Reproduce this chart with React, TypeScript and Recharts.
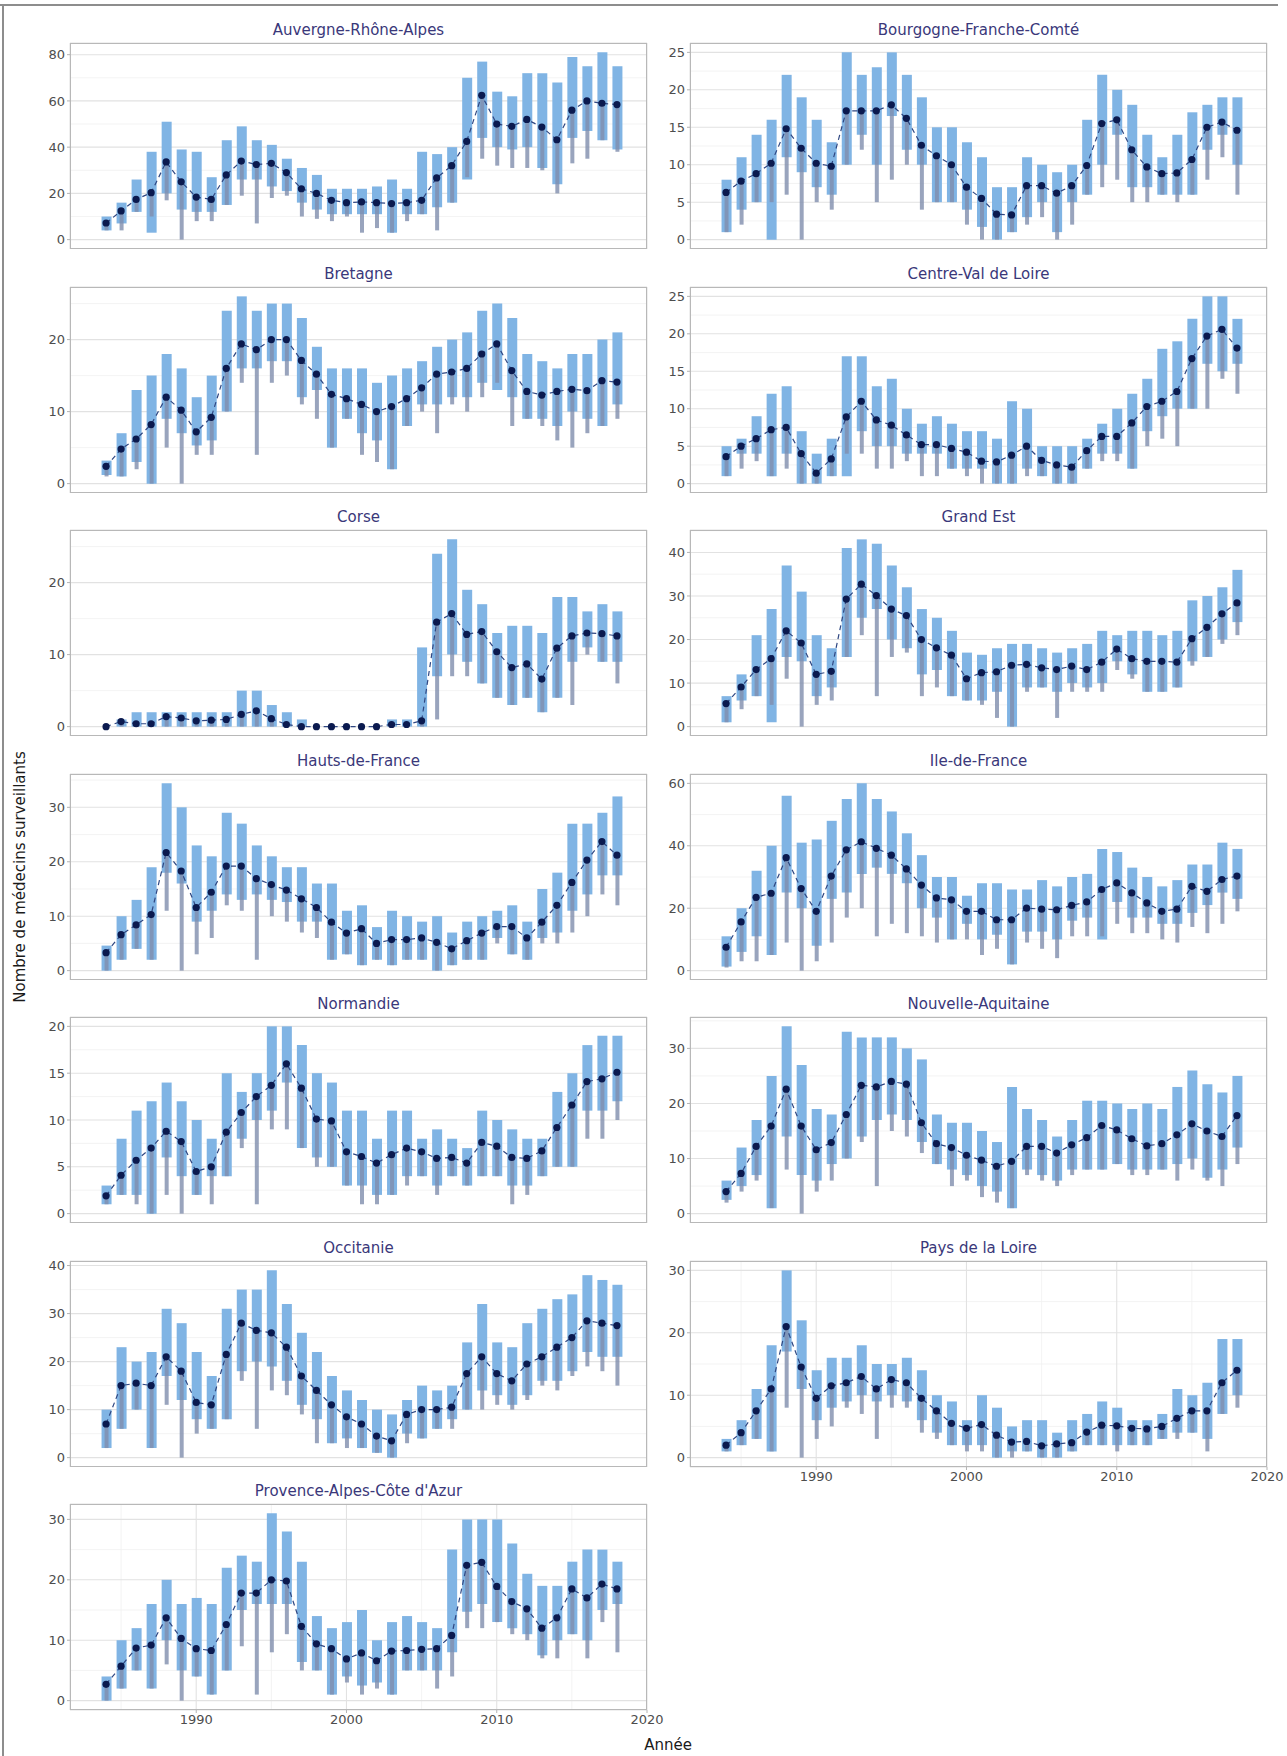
import { ComposedChart, Bar, Line, XAxis, YAxis, CartesianGrid } from 'recharts';

// years observed in each region
const years = [
  1984, 1985, 1986, 1987, 1988, 1989, 1990, 1991, 1992, 1993, 1994, 1995, 1996, 1997, 1998, 1999, 2000, 2001,
  2002, 2003, 2004, 2005, 2006, 2007, 2008, 2009, 2010, 2011, 2012, 2013, 2014, 2015, 2016, 2017, 2018,
];
const xTicks = [1990, 2000, 2010, 2020];
const xMinor = [1985, 1995, 2005, 2015];

// Auvergne-Rhône-Alpes
const auraMed = [7.2, 12.4, 17.4, 20.3, 33.6, 25, 18.4, 17.4, 28, 34, 32.5, 33, 29, 22, 20, 17, 16, 16.3, 16, 15.6, 16, 17, 26.7, 32, 42.5, 62.4, 50, 49, 52, 48.7, 43.2, 56, 60, 59, 58.4];
const auraLo = [4, 7, 12, 3, 20, 13, 12, 12, 15, 26, 26, 23, 21, 16, 13, 11, 11, 11, 11, 3, 11, 11, 14, 16, 26, 44, 40, 39, 40, 31, 24, 44, 47, 43, 39];
const auraHi = [10, 16, 26, 38, 51, 39, 38, 27, 43, 49, 43, 41, 35, 31, 28, 22, 22, 22, 23, 26, 22, 38, 37, 40, 70, 77, 64, 62, 72, 72, 68, 79, 75, 81, 75];
const auraMin = [4, 4, 12, 10, 17, 0, 8, 8, 15, 19, 7, 18, 19, 10, 9, 8, 10, 3, 5, 3, 8, 11, 4, 16, 27, 35, 32, 31, 31, 30, 20, 33, 35, 43, 38];

// Bourgogne-Franche-Comté
const bfcMed = [6.3, 7.8, 8.8, 10.2, 14.8, 12.2, 10.2, 9.8, 17.2, 17.2, 17.2, 18, 16.2, 12.6, 11.2, 10, 7, 5.5, 3.4, 3.3, 7.2, 7.2, 6.2, 7.2, 9.9, 15.5, 16, 12, 9.7, 8.8, 8.9, 10.7, 15, 15.7, 14.6];
const bfcLo = [1, 4, 5, 0, 11, 9, 7, 6, 10, 14, 10, 16.5, 12, 10, 5, 5, 4, 1.7, 0, 1, 3, 5, 1, 5, 6, 10, 14, 7, 7, 6, 6, 6, 12, 14, 10];
const bfcHi = [8, 11, 14, 16, 22, 19, 16, 13, 25, 22, 23, 25, 22, 19, 15, 15, 13, 11, 7, 7, 11, 10, 9, 10, 16, 22, 20, 18, 14, 11, 14, 17, 18, 19, 19];
const bfcMin = [1, 2, 5, 5, 6, 0, 5, 4, 10, 12, 5, 8, 10, 4, 5, 5, 2, 0, 0, 1, 2, 3, 0, 2, 6, 7, 8, 5, 5, 6, 5, 6, 8, 11, 6];

// Bretagne
const breMed = [2.4, 4.8, 6.2, 8.2, 12, 10.2, 7.2, 9.2, 16, 19.4, 18.6, 20, 20, 17.1, 15.2, 12.4, 11.8, 11, 10, 10.7, 11.8, 13.3, 15.2, 15.5, 16, 18, 19.4, 15.7, 12.8, 12.3, 12.8, 13.1, 12.9, 14.3, 14.1];
const breLo = [1.2, 1, 3, 0, 9, 7, 5.3, 6, 10, 16, 16, 17, 17, 12, 13, 5, 9, 7, 6, 2, 8, 11, 11, 12, 12, 14, 13, 12, 9, 9, 8, 10, 9, 8, 11];
const breHi = [3.2, 7, 13, 15, 18, 16, 12, 15, 24, 26, 24, 25, 25, 23, 19, 16, 16, 16, 14, 15, 16, 17, 19, 20, 21, 24, 25, 23, 18, 17, 16, 18, 18, 20, 21];
const breMin = [1, 1, 2, 0, 5, 0, 4, 4, 10, 14, 4, 14, 15, 11, 9, 5, 9, 4, 3, 2, 8, 10, 7, 11, 10, 12, 14, 8, 9, 8, 6, 5, 7, 8, 9];

// Centre-Val de Loire
const cvlMed = [3.6, 5, 6, 7.2, 7.5, 4, 1.4, 3.3, 8.9, 11, 8.5, 7.8, 6.5, 5.2, 5.2, 4.7, 4.2, 3, 2.9, 3.8, 5, 3.1, 2.5, 2.2, 4.4, 6.3, 6.3, 8.1, 10.3, 11, 12.3, 16.7, 19.7, 20.6, 18.1];
const cvlLo = [1, 4, 4, 1, 4, 0, 0, 1, 1, 7, 5, 5, 4, 4, 4, 2, 2, 2, 0, 0, 2, 1, 0, 0, 2, 4, 4, 2, 7, 9, 10, 10, 16, 15, 16];
const cvlHi = [5, 6, 9, 12, 13, 7, 4, 6, 17, 17, 13, 14, 10, 8, 9, 8, 7, 7, 6, 11, 10, 5, 5, 5, 6, 8, 10, 12, 14, 18, 19, 22, 25, 25, 22];
const cvlMin = [1, 2, 3, 1, 2, 0, 0, 1, 4, 4, 2, 2, 3, 1, 1, 2, 1, 0, 0, 0, 1, 1, 0, 0, 2, 3, 3, 2, 5, 6, 5, 10, 10, 14, 12];

// Corse
const corMed = [0, 0.7, 0.4, 0.4, 1.4, 1.2, 0.8, 0.9, 1, 1.7, 2.2, 1.1, 0.3, 0, 0, 0, 0, 0, 0, 0.3, 0.3, 0.8, 14.5, 15.7, 12.8, 13.2, 10.4, 8.2, 8.7, 6.6, 10.9, 12.6, 13, 12.9, 12.6];
const corLo = [0, 0, 0, 0, 0, 0, 0, 0, 0, 0, 0, 0, 0, 0, 0, 0, 0, 0, 0, 0, 0, 0, 7, 10, 9, 6, 4, 3, 4, 2, 4, 9, 11, 9, 9];
const corHi = [0, 1, 2, 2, 2, 2, 2, 2, 2, 5, 5, 3, 2, 1, 0, 0, 0, 0, 0, 1, 1, 11, 24, 26, 19, 17, 13, 14, 14, 13, 18, 18, 16, 17, 16];
const corMin = [0, 0, 0, 0, 0, 0, 0, 0, 0, 0, 0, 0, 0, 0, 0, 0, 0, 0, 0, 0, 0, 0, 1, 7, 7, 6, 4, 3, 4, 2, 4, 3, 10, 9, 6];

// Grand Est
const gesMed = [5.3, 9.1, 13.1, 15.6, 22, 19.2, 12, 12.7, 29.3, 32.7, 30.1, 27, 25.5, 20, 18.1, 16.4, 11, 12.4, 12.6, 14.1, 14.3, 13.5, 13.1, 13.9, 13.1, 14.8, 17.8, 15.6, 15, 15, 14.8, 20.2, 22.8, 25.9, 28.4];
const gesLo = [1, 6, 7, 1, 16, 15, 7, 9, 16, 25, 27, 20, 18, 12, 13, 7, 6, 6, 8, 0, 9, 9, 8, 10, 9, 10, 15, 12, 8, 8, 9, 15, 16, 20, 24];
const gesHi = [7, 12, 21, 27, 37, 31, 21, 18, 41, 43, 42, 37, 32, 27, 25, 22, 17, 16.5, 18, 19, 19, 18, 17, 18, 19, 22, 21, 22, 22, 21, 22, 29, 30, 32, 36];
const gesMin = [1, 4, 7, 5, 11, 0, 5, 6, 16, 21, 7, 16, 17, 7, 9, 7, 6, 5, 2, 0, 8, 9, 2, 8, 8, 8, 13, 11, 8, 8, 9, 14, 16, 19, 21];

// Hauts-de-France
const hdfMed = [3.3, 6.6, 8.4, 10.3, 21.7, 18.3, 11.6, 14.4, 19.2, 19.2, 16.9, 15.8, 14.8, 13.2, 11.6, 8.9, 6.9, 7.7, 5, 5.7, 5.7, 6, 5.2, 4, 5.5, 6.9, 8.1, 8.1, 6, 8.9, 12, 16.2, 20.3, 23.7, 21.2];
const hdfLo = [0, 2, 4, 2, 18, 16, 9, 11, 14, 13, 14, 13, 12.6, 9, 9, 2, 3, 1, 2, 1, 2, 2, 0, 1, 2, 2, 6, 3, 2, 6, 7, 11, 14, 17.5, 17.5];
const hdfHi = [4.6, 10, 13, 19, 34.4, 30, 23, 21, 29, 27, 23, 21, 19, 19, 16, 16, 11, 12, 8, 11, 10, 9, 10, 7, 9, 10, 11, 12, 9, 15, 18, 27, 27, 29, 32];
const hdfMin = [0, 2, 4, 2, 11, 0, 3, 6, 12, 11, 2, 10, 9, 7, 6, 2, 3, 1, 2, 1, 2, 2, 0, 1, 2, 2, 5, 3, 2, 5, 5, 7, 10, 14, 12];

// Ile-de-France
const idfMed = [7.5, 15.6, 23.5, 24.8, 36.2, 26.3, 19, 30.3, 38.7, 41.3, 39.2, 37, 32.6, 27.4, 23.3, 22.7, 19, 19, 16.3, 16.3, 20, 19.7, 19.5, 20.9, 22, 26, 28.1, 24.9, 21.7, 19, 19.7, 27, 25.4, 29.2, 30.3];
const idfLo = [1.3, 6, 11, 5, 25, 20, 8, 23, 25, 31, 33, 31, 28, 20, 17, 10, 15, 10, 11.5, 2, 12.5, 12.5, 10, 16, 17, 10, 22, 17, 17, 15, 15, 18.5, 21, 25, 23];
const idfHi = [11, 20, 32, 40, 56, 41, 42, 48, 55, 60, 55, 51, 44, 37, 30, 30, 24, 28, 28, 26, 26, 29, 27, 30, 31, 39, 38, 33, 30, 27, 29, 34, 34, 41, 39];
const idfMin = [1, 3, 3, 5, 9, 0, 3, 9, 17, 20, 11, 15, 12, 11, 9, 10, 10, 5, 7, 2, 9, 7, 4, 11, 11, 11, 15, 12, 12, 10, 9, 14, 12, 15, 19];

// Normandie
const norMed = [1.9, 4.1, 5.7, 7, 8.8, 7.7, 4.5, 5, 8.7, 10.8, 12.5, 13.7, 16, 13.4, 10.1, 9.9, 6.6, 6.1, 5.4, 6.3, 7, 6.6, 5.9, 6, 5.4, 7.6, 7.2, 6, 5.9, 6.7, 9.2, 11.6, 14.1, 14.4, 15.1];
const norLo = [1, 2, 2, 0, 6, 4, 2, 4, 4, 8, 10, 11, 14, 7, 6, 5, 3, 3, 2, 2, 4, 4, 3, 4, 3, 4, 4, 3, 3, 4, 5, 5, 11, 11, 12];
const norHi = [3, 8, 11, 12, 14, 12, 10, 8, 15, 13, 15, 20, 20, 18, 15, 14, 11, 11, 8, 11, 11, 8, 9, 8, 7, 11, 10, 9, 8, 8, 13, 15, 18, 19, 19];
const norMin = [1, 2, 1, 0, 2, 0, 2, 1, 4, 7, 1, 9, 9, 7, 5, 5, 3, 1, 1, 2, 3, 4, 2, 4, 3, 4, 4, 1, 2, 4, 5, 5, 8, 8, 10];

// Nouvelle-Aquitaine
const naqMed = [4, 7.3, 12.2, 15.9, 22.6, 15.9, 11.6, 12.9, 18, 23.3, 23, 24, 23.5, 16.5, 12.7, 12, 10.6, 9.7, 8.6, 9.5, 12.2, 12.2, 11, 12.5, 13.8, 16, 15.2, 13.6, 12.3, 12.7, 14.3, 16.3, 15, 14, 17.8];
const naqLo = [2.5, 5, 7, 1, 14, 7, 6, 9, 10, 14, 17, 18, 17, 13, 9, 8, 7, 5, 4, 1, 8, 7, 6, 8, 8, 8, 9, 8, 8, 8, 9, 10, 6.5, 8, 12];
const naqHi = [6, 12, 17, 25, 34, 27, 19, 18, 33, 32, 32, 32, 30, 28, 18, 16.5, 16.5, 15, 13, 23, 19, 17, 14, 17, 20.5, 20.5, 20, 19, 20, 19, 23, 26, 23.5, 22, 25];
const naqMin = [2, 4, 6, 1, 8, 0, 4, 6, 10, 13, 5, 15, 14, 11, 9, 5, 6, 3, 2, 1, 7, 6, 5, 7, 8, 8, 9, 7, 7, 8, 6, 8, 6, 5, 9];

// Occitanie
const occMed = [7, 15, 15.5, 15, 21, 18, 11.5, 11, 21.5, 28, 26.5, 26, 23, 17, 14, 11, 8.5, 7, 4.5, 3.5, 9, 10, 10, 10.5, 17.5, 21, 17.5, 16, 19.5, 21, 23, 25, 28.5, 28, 27.5];
const occLo = [2, 6, 10, 2, 17, 12, 8, 6, 8, 18, 20, 19, 16, 11, 8, 3, 4, 2, 1, 0, 5, 4, 6, 8, 10, 14, 13, 11, 13, 16, 16, 18, 22, 21, 21];
const occHi = [10, 23, 20, 22, 31, 28, 22, 17, 31, 35, 35, 39, 32, 26, 22, 17, 14, 12, 10, 9, 12, 15, 14, 15, 24, 32, 24, 23, 28, 31, 33, 34, 38, 37, 36];
const occMin = [2, 6, 10, 2, 11, 0, 5, 6, 8, 16, 6, 14, 13, 9, 3, 3, 2, 2, 1, 0, 3, 4, 6, 6, 10, 10, 11, 10, 12, 15, 14, 17, 19, 18, 15];

// Pays de la Loire
const pdlMed = [2, 4, 7.5, 11, 21, 14.5, 9.5, 11.5, 12, 13, 11, 12.5, 12, 9.5, 7.5, 5.5, 4.7, 5.3, 3.6, 2.5, 2.6, 1.9, 2.2, 2.4, 4.1, 5.2, 5.1, 4.7, 4.6, 5, 6.3, 7.5, 7.5, 12, 14];
const pdlLo = [1, 2, 3, 1, 17, 11, 6, 8, 9, 10, 9, 10, 9, 6, 4, 2, 2, 2, 0, 1, 1, 0, 0, 1, 2, 2, 2, 2, 2, 3, 4, 4, 3, 7, 10];
const pdlHi = [3, 6, 11, 18, 30, 22, 14, 16, 16, 18, 15, 15, 16, 14, 10, 9, 6, 10, 8, 5, 6, 6, 4, 6, 7, 9, 8, 6, 6, 7, 11, 10, 12, 19, 19];
const pdlMin = [1, 2, 3, 1, 8, 0, 3, 5, 8, 7, 3, 8, 8, 4, 3, 2, 1, 1, 0, 0, 1, 0, 0, 1, 2, 2, 1, 2, 2, 3, 3, 4, 1, 7, 8];

// Provence-Alpes-Côte d'Azur
const pacMed = [2.7, 5.7, 8.7, 9.2, 13.7, 10.3, 8.6, 8.3, 12.6, 17.8, 17.8, 20, 19.8, 12.3, 9.4, 8.6, 6.9, 7.9, 6.6, 8.2, 8.3, 8.5, 8.6, 10.8, 22.4, 22.9, 18.9, 16.4, 15.2, 12, 13.7, 18.5, 17, 19.3, 18.5];
const pacLo = [0, 2, 5, 2, 10, 5, 4, 1, 5, 15, 16, 16, 16, 6.4, 5, 1, 4, 2.5, 3, 1, 5, 5, 5, 8, 14.7, 16, 13, 12, 11, 7.5, 10, 11, 10, 15, 16];
const pacHi = [4, 10, 12, 16, 20, 16, 17, 16, 22, 24, 23, 31, 28, 23, 14, 12, 13, 15, 10, 13, 14, 13, 12, 25, 30, 30, 30, 26, 21, 19, 19, 23, 25, 25, 23];
const pacMin = [0, 2, 5, 2, 6, 0, 4, 1, 5, 9, 1, 8, 11, 5, 5, 1, 3, 1, 2, 1, 5, 5, 2, 4, 12, 12, 13, 11, 10, 7, 7, 11, 7, 13, 8];

const regions = [
  { name: 'Auvergne-Rhône-Alpes', med: auraMed, lo: auraLo, hi: auraHi, min: auraMin, yTicks: [0, 20, 40, 60, 80] },
  { name: 'Bourgogne-Franche-Comté', med: bfcMed, lo: bfcLo, hi: bfcHi, min: bfcMin, yTicks: [0, 5, 10, 15, 20, 25] },
  { name: 'Bretagne', med: breMed, lo: breLo, hi: breHi, min: breMin, yTicks: [0, 10, 20] },
  { name: 'Centre-Val de Loire', med: cvlMed, lo: cvlLo, hi: cvlHi, min: cvlMin, yTicks: [0, 5, 10, 15, 20, 25] },
  { name: 'Corse', med: corMed, lo: corLo, hi: corHi, min: corMin, yTicks: [0, 10, 20] },
  { name: 'Grand Est', med: gesMed, lo: gesLo, hi: gesHi, min: gesMin, yTicks: [0, 10, 20, 30, 40] },
  { name: 'Hauts-de-France', med: hdfMed, lo: hdfLo, hi: hdfHi, min: hdfMin, yTicks: [0, 10, 20, 30] },
  { name: 'Ile-de-France', med: idfMed, lo: idfLo, hi: idfHi, min: idfMin, yTicks: [0, 20, 40, 60] },
  { name: 'Normandie', med: norMed, lo: norLo, hi: norHi, min: norMin, yTicks: [0, 5, 10, 15, 20] },
  { name: 'Nouvelle-Aquitaine', med: naqMed, lo: naqLo, hi: naqHi, min: naqMin, yTicks: [0, 10, 20, 30] },
  { name: 'Occitanie', med: occMed, lo: occLo, hi: occHi, min: occMin, yTicks: [0, 10, 20, 30, 40] },
  { name: 'Pays de la Loire', med: pdlMed, lo: pdlLo, hi: pdlHi, min: pdlMin, yTicks: [0, 10, 20, 30] },
  { name: "Provence-Alpes-Côte d'Azur", med: pacMed, lo: pacLo, hi: pacHi, min: pacMin, yTicks: [0, 10, 20, 30] },
];

const FONT = '"DejaVu Sans", "Liberation Sans", sans-serif';
const PLOT_W = 577;
const PLOT_H = 206;
const Y_W = 44;
const TOP_PAD = 9;
const colLeft = [70, 690];
const rowTop = [43, 287, 530, 774, 1017, 1261, 1504];

type Region = (typeof regions)[number];

function Panel({ region, left, top, showX }: { region: Region; left: number; top: number; showX: boolean }) {
  const data = years.map((year, i) => ({
    year,
    med: region.med[i],
    box: [region.lo[i], region.hi[i]],
    whisker: [region.min[i], region.med[i]],
  }));
  const all = [...region.lo, ...region.hi, ...region.min, ...region.med];
  const mn = Math.min(...all);
  const mx = Math.max(...all);
  const pad = (mx - mn) * 0.05;
  const domain: [number, number] = [mn - pad, mx + pad];
  const step = region.yTicks[1] - region.yTicks[0];
  const yMinor = [region.yTicks[0] - step / 2, ...region.yTicks.map((t) => t + step / 2)].filter(
    (v) => v > domain[0] && v < domain[1]
  );
  const rightMargin = showX ? 19 : 2;
  const xh = showX ? 22 : 0;
  const tickStyle = { fill: '#4d4d4d', fontSize: 13, fontFamily: FONT };

  return (
    <>
      <div
        style={{
          position: 'absolute',
          left,
          top: top - 22,
          width: PLOT_W,
          textAlign: 'center',
          fontFamily: FONT,
          fontSize: 15,
          color: '#3a387a',
          lineHeight: '18px',
        }}
      >
        {region.name}
      </div>
      <div style={{ position: 'absolute', left: left - Y_W, top: top - TOP_PAD }}>
        <ComposedChart
          width={Y_W + PLOT_W + rightMargin}
          height={PLOT_H + xh + TOP_PAD}
          data={data}
          margin={{ top: TOP_PAD, right: rightMargin, bottom: 0, left: 0 }}
        >
          <CartesianGrid
            xAxisId="main"
            stroke="#f0f0f0"
            strokeWidth={0.8}
            horizontalValues={yMinor}
            verticalValues={xMinor}
          />
          <CartesianGrid xAxisId="main" stroke="#e2e2e2" strokeWidth={1.1} />
          <XAxis
            xAxisId="main"
            dataKey="year"
            type="number"
            domain={[1981.6, 2020]}
            allowDataOverflow
            ticks={xTicks}
            height={xh}
            tick={showX ? tickStyle : false}
            tickLine={showX ? { stroke: '#b3b3b3' } : false}
            tickSize={3}
            axisLine={false}
          />
          <XAxis xAxisId="thin" dataKey="year" type="number" domain={[1981.6, 2020]} allowDataOverflow hide />
          <YAxis
            type="number"
            domain={domain}
            allowDataOverflow
            ticks={region.yTicks}
            width={Y_W}
            tick={tickStyle}
            tickLine={{ stroke: '#b3b3b3' }}
            tickSize={3}
            tickMargin={2}
            axisLine={false}
            interval={0}
          />
          <Bar xAxisId="main" dataKey="box" barSize={10} fill="#80b4e4" isAnimationActive={false} />
          <Bar xAxisId="thin" dataKey="whisker" barSize={4} fill="#7f8dac" fillOpacity={0.8} isAnimationActive={false} />
          <Line
            xAxisId="main"
            dataKey="med"
            type="linear"
            stroke="#2f4782"
            strokeWidth={1.2}
            strokeDasharray="5 4"
            dot={{ r: 3.6, fill: '#0b1a4f', stroke: 'none' }}
            activeDot={false}
            isAnimationActive={false}
          />
        </ComposedChart>
      </div>
      <div
        style={{
          position: 'absolute',
          left,
          top,
          width: PLOT_W,
          height: PLOT_H,
          boxSizing: 'border-box',
          border: '1px solid #b8b8b8',
          pointerEvents: 'none',
        }}
      />
    </>
  );
}

export default function App() {
  return (
    <div style={{ position: 'absolute', left: 0, top: 0, width: 1287, height: 1756, background: '#fff', overflow: 'hidden' }}>
      <div style={{ position: 'absolute', left: 0, top: 4, width: 1278, height: 2, background: '#8d8d8d' }} />
      <div style={{ position: 'absolute', left: 2, top: 4, width: 2, height: 1752, background: '#8d8d8d' }} />
      {regions.map((r, i) => {
        const col = i % 2;
        const row = Math.floor(i / 2);
        const showX = i === 11 || i === 12;
        return <Panel key={r.name} region={r} left={colLeft[col]} top={rowTop[row]} showX={showX} />;
      })}
      <div
        style={{
          position: 'absolute',
          left: 20 - 200,
          top: 877 - 10,
          width: 400,
          height: 20,
          textAlign: 'center',
          transform: 'rotate(-90deg)',
          fontFamily: FONT,
          fontSize: 15,
          color: '#1a1a1a',
          lineHeight: '20px',
        }}
      >
        Nombre de médecins surveillants
      </div>
      <div
        style={{
          position: 'absolute',
          left: 668 - 60,
          top: 1735,
          width: 120,
          textAlign: 'center',
          fontFamily: FONT,
          fontSize: 15,
          color: '#1a1a1a',
          lineHeight: '20px',
        }}
      >
        Année
      </div>
    </div>
  );
}
